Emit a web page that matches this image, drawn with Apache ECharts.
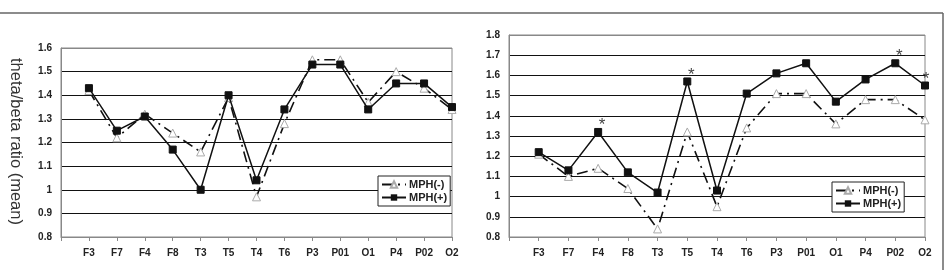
<!DOCTYPE html>
<html>
<head>
<meta charset="utf-8">
<script src="https://cdn.jsdelivr.net/npm/echarts@6/dist/echarts.min.js"></script>
<style>
  html, body { margin: 0; padding: 0; background: #fff; }
  #chart { width: 951px; height: 270px; }
</style>
</head>
<body>
<div id="chart"></div>
<script>
// electrode sites along the x axis
const categories = ['F3', 'F7', 'F4', 'F8', 'T3', 'T5', 'T4', 'T6', 'P3', 'P01', 'O1', 'P4', 'P02', 'O2'];

// left panel
const leftMinus = [1.42, 1.22, 1.32, 1.24, 1.16, 1.39, 0.97, 1.28, 1.55, 1.55, 1.37, 1.50, 1.43, 1.34];
const leftPlus = [1.43, 1.25, 1.31, 1.17, 1.00, 1.40, 1.04, 1.34, 1.53, 1.53, 1.34, 1.45, 1.45, 1.35];

// right panel
const rightMinus = [1.21, 1.10, 1.14, 1.04, 0.84, 1.32, 0.95, 1.34, 1.51, 1.51, 1.36, 1.48, 1.48, 1.38];
const rightPlus = [1.22, 1.13, 1.32, 1.12, 1.02, 1.57, 1.03, 1.51, 1.61, 1.66, 1.47, 1.58, 1.66, 1.55];
const rightSignificant = ['F4', 'T5', 'P02', 'O2'];

const leftRange = [0.8, 1.6];
const rightRange = [0.8, 1.8];

const font = 'Arial, "Liberation Sans", sans-serif';

// first slot left empty so F3 sits one step in from the y axis
const xCats = [''].concat(categories);

function withStars(values, marked) {
    const out = [null];
    values.forEach((v, i) => {
        if (marked && marked.indexOf(categories[i]) >= 0) {
            out.push({
                value: v,
                label: { show: true, formatter: '*', position: 'top', offset: [i === categories.length - 1 ? 1 : 4, 11],
                         fontSize: 17, color: '#444', fontFamily: font }
            });
        } else {
            out.push(v);
        }
    });
    return out;
}

function splitColors(range) {
    const n = Math.round((range[1] - range[0]) / 0.1) + 1;
    const c = [];
    for (let i = 0; i < n; i++) c.push(i === 0 || i === n - 1 ? '#888' : '#111');
    return c;
}

function xAxis(gridIndex) {
    return {
        type: 'category', gridIndex: gridIndex, data: xCats, boundaryGap: false,
        axisLine: { lineStyle: { color: '#888', width: 1 } },
        axisTick: { show: true, length: 4, lineStyle: { color: '#888' } },
        axisLabel: { interval: 0, margin: 11, fontSize: 10, fontWeight: 'bold', color: '#222', fontFamily: font }
    };
}

function yAxis(gridIndex, range) {
    return {
        type: 'value', gridIndex: gridIndex, min: range[0], max: range[1], interval: 0.1,
        axisLine: { show: true, lineStyle: { color: '#888' } },
        axisTick: { show: false },
        splitLine: { show: true, lineStyle: { color: splitColors(range), width: 1.2 } },
        axisLabel: {
            margin: 9, fontSize: 10, fontWeight: 'bold', color: '#222', fontFamily: font,
            formatter: v => String(Math.round(v * 10) / 10)
        }
    };
}

function minusSeries(idx, values) {
    return {
        name: 'MPH(-)', type: 'line', xAxisIndex: idx, yAxisIndex: idx,
        data: withStars(values), symbol: 'triangle', symbolSize: 8,
        itemStyle: { color: '#fff', borderColor: '#aaa', borderWidth: 1 },
        lineStyle: { color: '#111', width: 1.6, type: [11, 5, 2, 5] },
        connectNulls: false, animation: false, z: 2
    };
}

function plusSeries(idx, values, marked) {
    return {
        name: 'MPH(+)', type: 'line', xAxisIndex: idx, yAxisIndex: idx,
        data: withStars(values, marked), symbol: 'rect', symbolSize: 7,
        itemStyle: { color: '#111', borderColor: '#111' },
        lineStyle: { color: '#111', width: 1.5 },
        animation: false, z: 3
    };
}

function legend(left, top) {
    return {
        data: ['MPH(-)', 'MPH(+)'], orient: 'vertical', left: left, top: top,
        backgroundColor: '#fff', borderColor: '#222', borderWidth: 1,
        padding: [3, 3, 3, 3], itemGap: 2, itemWidth: 24, itemHeight: 8,
        textStyle: { fontSize: 11, fontWeight: 'bold', color: '#222', fontFamily: font, padding: [0, 0, 0, -2] }
    };
}

const chart = echarts.init(document.getElementById('chart'), null, { renderer: 'canvas' });
chart.setOption({
    animation: false,
    backgroundColor: '#fff',
    grid: [
        { left: 61, right: 499, top: 48, bottom: 33, show: true, borderColor: '#888', borderWidth: 1 },
        { left: 509, right: 26, top: 35, bottom: 33, show: true, borderColor: '#888', borderWidth: 1 }
    ],
    xAxis: [xAxis(0), xAxis(1)],
    yAxis: [yAxis(0, leftRange), yAxis(1, rightRange)],
    legend: [legend(378, 176), legend(832, 182)],
    series: [
        minusSeries(0, leftMinus),
        plusSeries(0, leftPlus),
        minusSeries(1, rightMinus),
        plusSeries(1, rightPlus, rightSignificant)
    ],
    graphic: [
        { type: 'line', shape: { x1: 0, y1: 13, x2: 943, y2: 13 }, style: { stroke: '#666', lineWidth: 1.5 } },
        { type: 'line', shape: { x1: 943, y1: 13, x2: 943, y2: 270 }, style: { stroke: '#666', lineWidth: 1.5 } },
        {
            type: 'text', left: 7, top: 58, rotation: -Math.PI / 2,
            style: { text: 'theta/beta ratio (mean)', fontSize: 16.5, fill: '#333', fontFamily: font }
        }
    ]
});

window.addEventListener('resize', () => {
    chart.resize();
});
</script>
</body>
</html>
